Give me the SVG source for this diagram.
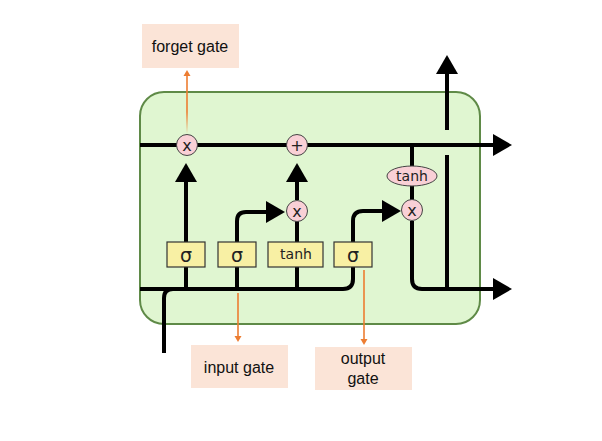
<svg xmlns="http://www.w3.org/2000/svg" width="602" height="441" viewBox="0 0 602 441">
<defs>
<style>
.wire{fill:none;stroke:#000;stroke-width:4}
.gate{fill:#f8f0a4;stroke:#333;stroke-width:1.2}
.op{fill:#f9d0d6;stroke:#444;stroke-width:1}
.optxt{font-family:"DejaVu Sans",sans-serif;font-size:16px;fill:#222;text-anchor:middle}
.gtxt{font-family:"DejaVu Sans",sans-serif;fill:#222;text-anchor:middle}
.lbl{fill:#fbe4d7}
.ltxt{font-family:"Liberation Sans",Arial,sans-serif;font-size:16px;fill:#111;text-anchor:middle}
.orange{fill:none;stroke:#ed7d31;stroke-width:1.6}
</style>
<marker id="ah" markerUnits="userSpaceOnUse" markerWidth="20" markerHeight="22" refX="1" refY="11" orient="auto" overflow="visible">
<path d="M0,0 L19,11 L0,22 z" fill="#000"/>
</marker>
<marker id="oh" markerUnits="userSpaceOnUse" markerWidth="8" markerHeight="8" refX="1" refY="3.5" orient="auto" overflow="visible">
<path d="M0,0 L6,3.5 L0,7 z" fill="#ed7d31"/>
</marker>
<linearGradient id="fade" gradientUnits="userSpaceOnUse" x1="0" y1="134" x2="0" y2="112">
<stop offset="0" stop-color="#ed7d31" stop-opacity="0"/>
<stop offset="1" stop-color="#ed7d31" stop-opacity="1"/>
</linearGradient>
</defs>
<rect width="602" height="441" fill="#fff"/>

<g id="cell">
<rect x="140" y="92" width="340" height="232" rx="24" ry="24" fill="#e0f6d1" stroke="#5f8a47" stroke-width="2"/>
</g>

<g id="connectors">
<path class="wire" d="M140,145 H494" marker-end="url(#ah)"/>
<path class="wire" d="M447,130 V73" marker-end="url(#ah)"/>
<path class="wire" d="M447,155 V289"/>
<path class="wire" d="M412,221 V279 Q412,289 422,289 H494" marker-end="url(#ah)"/>
<path class="wire" d="M186,242 V181" marker-end="url(#ah)"/>
<path class="wire" d="M297,200 V181" marker-end="url(#ah)"/>
<path class="wire" d="M237,242 V221 Q237,212 246,212 H267" marker-end="url(#ah)"/>
<path class="wire" d="M297,242 V221"/>
<path class="wire" d="M353,242 V221 Q353,211 363,211 H383" marker-end="url(#ah)"/>
<path class="wire" d="M412,145 V167 M412,185 V200"/>
<path class="wire" d="M140,289 H343 Q353,289 353,279 V267"/>
<path class="wire" d="M186,267 V289 M237,267 V289 M297,267 V289"/>
<path class="wire" d="M164,353 V298 Q164,289 173,289"/>
<path d="M187,133 V75" fill="none" stroke="url(#fade)" stroke-width="1.6" marker-end="url(#oh)"/>
<path class="orange" d="M238,293 V337" marker-end="url(#oh)"/>
<path class="orange" d="M364,270 V340" marker-end="url(#oh)"/>
</g>

<g id="forget-mul">
<circle class="op" cx="187" cy="145" r="10.5"/>
<text class="optxt" x="187" y="150.5">x</text>
</g>
<g id="cell-add">
<circle class="op" cx="297" cy="145" r="10.5"/>
<text class="optxt" x="297" y="150.5">+</text>
</g>
<g id="input-mul">
<circle class="op" cx="297" cy="211" r="10.5"/>
<text class="optxt" x="297" y="216.5">x</text>
</g>
<g id="output-mul">
<circle class="op" cx="412" cy="210" r="10.5"/>
<text class="optxt" x="412" y="215.5">x</text>
</g>
<g id="tanh-op">
<ellipse class="op" cx="412" cy="176" rx="25" ry="10"/>
<text class="gtxt" x="412" y="181" font-size="14">tanh</text>
</g>

<g id="sigma-forget">
<rect class="gate" x="167" y="242" width="38" height="25"/>
<text class="gtxt" x="186" y="262" font-size="19">σ</text>
</g>
<g id="sigma-input">
<rect class="gate" x="218" y="242" width="38" height="25"/>
<text class="gtxt" x="237" y="262" font-size="19">σ</text>
</g>
<g id="tanh-gate">
<rect class="gate" x="268" y="242" width="55" height="25"/>
<text class="gtxt" x="296" y="259" font-size="14">tanh</text>
</g>
<g id="sigma-output">
<rect class="gate" x="334" y="242" width="38" height="25"/>
<text class="gtxt" x="353" y="262" font-size="19">σ</text>
</g>

<g id="label-forget">
<rect class="lbl" x="142" y="24" width="97" height="44"/>
<text class="ltxt" x="190" y="52">forget gate</text>
</g>
<g id="label-input">
<rect class="lbl" x="191" y="345" width="97" height="43"/>
<text class="ltxt" x="239" y="373">input gate</text>
</g>
<g id="label-output">
<rect class="lbl" x="315" y="347" width="97" height="43"/>
<text class="ltxt" x="363" y="364">output</text>
<text class="ltxt" x="363" y="384">gate</text>
</g>
</svg>
